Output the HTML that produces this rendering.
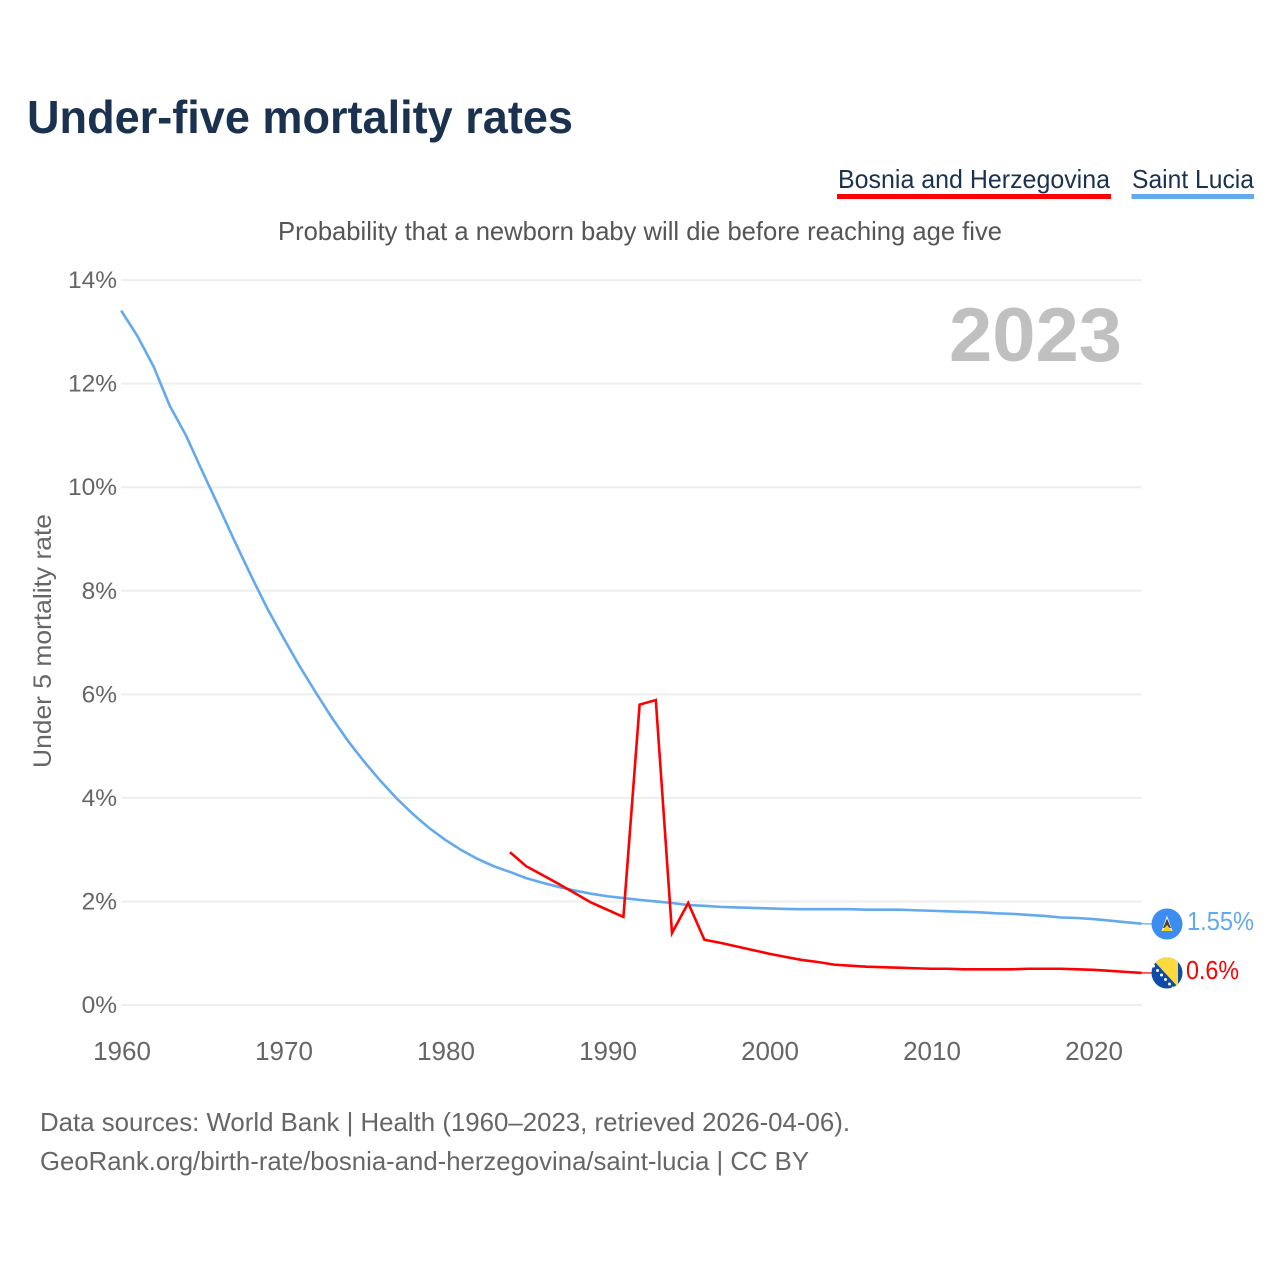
<!DOCTYPE html>
<html lang="en">
<head>
<meta charset="utf-8">
<title>Under-five mortality rates</title>
<style>
  html, body { margin: 0; padding: 0; background: #fff; }
  svg { display: block; font-family: "Liberation Sans", Arial, sans-serif; }
</style>
</head>
<body>
<svg id="chart" xmlns="http://www.w3.org/2000/svg" width="1280" height="1280" viewBox="0 0 1280 1280">
  <rect x="0" y="0" width="1280" height="1280" fill="#ffffff"/>

  <text x="27" y="133" font-size="46" font-weight="700" fill="#1a3250" textLength="546" lengthAdjust="spacingAndGlyphs">Under-five mortality rates</text>

  <g>
    <text x="838" y="188" font-size="26" fill="#1a3250" textLength="272" lengthAdjust="spacingAndGlyphs">Bosnia and Herzegovina</text>
    <rect x="837" y="194" width="274" height="5" fill="#ff0000"/>
  </g>
  <g>
    <text x="1132" y="188" font-size="26" fill="#1a3250" textLength="122" lengthAdjust="spacingAndGlyphs">Saint Lucia</text>
    <rect x="1131.5" y="194" width="122.5" height="5" fill="#63a9ee"/>
  </g>

  <text x="278" y="240" font-size="26" fill="#555555" textLength="724" lengthAdjust="spacingAndGlyphs">Probability that a newborn baby will die before reaching age five</text>

  <g id="grid"></g>
  <g id="yTicks"></g>
  <g id="xTicks"></g>

  <text transform="translate(51,768) rotate(-90)" x="0" y="0" font-size="25" fill="#666666" textLength="254" lengthAdjust="spacingAndGlyphs">Under 5 mortality rate</text>

  <text x="949" y="361" font-size="76" font-weight="700" fill="#c0c0c0" textLength="173" lengthAdjust="spacingAndGlyphs">2023</text>

  <g id="series"></g>

  <defs>
    <clipPath id="clip-lc"><circle cx="1167" cy="924" r="15.5"/></clipPath>
    <clipPath id="clip-ba"><circle cx="1167" cy="973" r="15.5"/></clipPath>
  </defs>

  <g clip-path="url(#clip-lc)">
    <rect x="1150" y="906" width="34" height="36" fill="#3d8df0"/>
    <polygon points="1167,915.5 1172.5,931 1161.5,931" fill="#f2f2f2"/>
    <polygon points="1167,918.5 1171,928 1163,928" fill="#444444"/>
    <polygon points="1167,925 1172,931 1162,931" fill="#fcd116"/>
  </g>
  <text x="1187" y="930" font-size="26" fill="#63a9ee" textLength="67" lengthAdjust="spacingAndGlyphs">1.55%</text>

  <g clip-path="url(#clip-ba)">
    <rect x="1150" y="956" width="34" height="36" fill="#0e4aa8"/>
    <polygon points="1154,961 1160,955 1178,955 1178,987" fill="#fcd93f"/>
    <g fill="#ffffff">
      <circle cx="1153.5" cy="966" r="1.5"/>
      <circle cx="1157.5" cy="970.5" r="1.5"/>
      <circle cx="1161.5" cy="975" r="1.5"/>
      <circle cx="1165.5" cy="979.5" r="1.5"/>
      <circle cx="1169.5" cy="984" r="1.5"/>
      <circle cx="1173" cy="988" r="1.5"/>
    </g>
  </g>
  <text x="1186" y="979" font-size="26" fill="#ff0000" textLength="53" lengthAdjust="spacingAndGlyphs">0.6%</text>

  <text x="40" y="1131" font-size="26" fill="#666666" textLength="810" lengthAdjust="spacingAndGlyphs">Data sources: World Bank | Health (1960–2023, retrieved 2026-04-06).</text>
  <text x="40" y="1170" font-size="26" fill="#666666" textLength="769" lengthAdjust="spacingAndGlyphs">GeoRank.org/birth-rate/bosnia-and-herzegovina/saint-lucia | CC BY</text>
</svg>

<script>
const yTickValues = [0, 2, 4, 6, 8, 10, 12, 14];
const xTickYears = [1960, 1970, 1980, 1990, 2000, 2010, 2020];
const saintLuciaStartYear = 1960;
const saintLuciaValues = [
  13.41, 12.92, 12.33, 11.57, 11.0, 10.31, 9.64, 8.96, 8.3, 7.67,
  7.1, 6.55, 6.04, 5.55, 5.1, 4.7, 4.33, 3.99, 3.69, 3.42,
  3.19, 2.99, 2.82, 2.68, 2.57, 2.45, 2.36, 2.28, 2.21, 2.15,
  2.1, 2.065, 2.03, 2.0, 1.97, 1.93, 1.915, 1.895, 1.885, 1.875,
  1.865, 1.855, 1.85, 1.85, 1.85, 1.85, 1.84, 1.84, 1.84, 1.83,
  1.82, 1.81, 1.8, 1.79, 1.77, 1.76, 1.74, 1.72, 1.69, 1.68,
  1.66, 1.63, 1.6, 1.57
];
const bosniaStartYear = 1984;
const bosniaValues = [
  2.95, 2.68, 2.51, 2.34, 2.16, 1.98, 1.84, 1.7, 5.8, 5.89,
  1.39, 1.97, 1.26, 1.2, 1.13, 1.06, 0.99, 0.93, 0.87, 0.83,
  0.78, 0.76, 0.74, 0.73, 0.72, 0.71, 0.7, 0.7, 0.69, 0.69,
  0.69, 0.69, 0.7, 0.7, 0.7, 0.69, 0.68, 0.66, 0.64, 0.62
];

const NS = 'http://www.w3.org/2000/svg';
const xScale = function (year) { return 121.2 + (year - 1960) * 16.2; };
const yScale = function (value) { return 1005 - value * 51.78; };
const plotLeft = xScale(1960);
const plotRight = xScale(2023);

function make(tag, parent, attrs) {
  const el = document.createElementNS(NS, tag);
  Object.keys(attrs).forEach(function (k) { el.setAttribute(k, attrs[k]); });
  parent.appendChild(el);
  return el;
}

const gridGroup = document.getElementById('grid');
const yTickGroup = document.getElementById('yTicks');
const xTickGroup = document.getElementById('xTicks');
const seriesGroup = document.getElementById('series');

yTickValues.forEach(function (v) {
  const line = make('line', gridGroup, {
    x1: plotLeft, x2: plotRight, y1: yScale(v), y2: yScale(v),
    stroke: '#eeeeee', 'stroke-width': 2
  });
  
  
  const label = make('text', yTickGroup, {
    x: 117, y: yScale(v) + 8, 'text-anchor': 'end', 'font-size': 24.5, fill: '#666666'
  });
  
  
  label.textContent = v + '%';
});

xTickYears.forEach(function (year) {
  const label = make('text', xTickGroup, {
    x: xScale(year) + 0.8, y: 1060, 'text-anchor': 'middle', 'font-size': 26, fill: '#666666'
  });
  
  
  label.textContent = String(year);
});

function pointsFor(values, startYear) {
  return values.map(function (v, i) {
    return xScale(startYear + i).toFixed(2) + ',' + yScale(v).toFixed(2);
  }).join(' ');
}

const saintLuciaLine = make('polyline', seriesGroup, {
  points: pointsFor(saintLuciaValues, saintLuciaStartYear),
  fill: 'none', stroke: '#63a9ee', 'stroke-width': 2.6, 'stroke-linejoin': 'miter'
});



const bosniaLine = make('polyline', seriesGroup, {
  points: pointsFor(bosniaValues, bosniaStartYear),
  fill: 'none', stroke: '#ff0000', 'stroke-width': 2.6, 'stroke-linejoin': 'miter'
});



const lcEnd = saintLuciaValues[saintLuciaValues.length - 1];
const baEnd = bosniaValues[bosniaValues.length - 1];

const lcConnector = make('line', seriesGroup, {
  x1: plotRight, x2: 1152, y1: yScale(lcEnd), y2: 924, stroke: '#63a9ee', 'stroke-width': 1.2
});



const baConnector = make('line', seriesGroup, {
  x1: plotRight, x2: 1152, y1: yScale(baEnd), y2: 973, stroke: '#ff0000', 'stroke-width': 1.2
});


</script>
</body>
</html>
